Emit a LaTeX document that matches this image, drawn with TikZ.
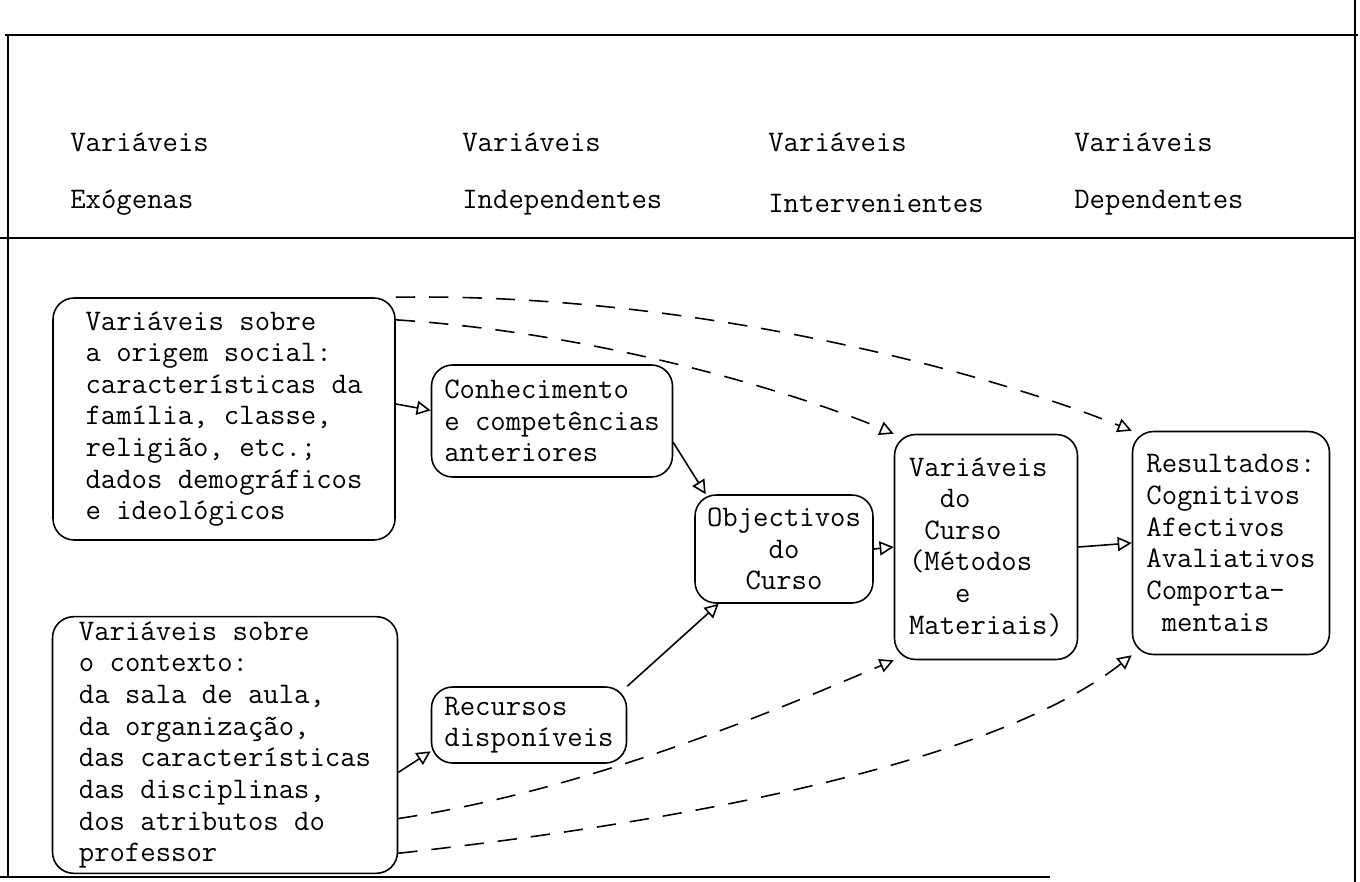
\documentclass[tikz,border=0pt]{standalone}
\usepackage{fontspec}
\usepackage{tikz}
\usetikzlibrary{arrows.meta,positioning,calc}

\begin{document}
\begin{tikzpicture}[x=0.02cm,y=-0.02cm,
    bx/.style={draw,rounded corners=12pt,line width=0.9pt,align=left,inner sep=1mm,font=\ttfamily\fontsize{17}{18}\selectfont},
    hd/.style={anchor=west,inner sep=0pt,font=\ttfamily\fontsize{17}{18}\selectfont},
    a/.style={-{Triangle[open,length=8pt,width=8pt]},line width=0.9pt},
    da/.style={a,dash pattern=on 11pt off 8pt}]
  \useasboundingbox (0,0) rectangle (1360,882);
  % frame
  \draw[line width=1pt] (5,35) -- (1358,35);
  \draw[line width=1pt] (8,35) -- (8,877);
  \draw[line width=1pt] (1355,0) -- (1355,882);
  \draw[line width=1pt] (0,877) -- (1050,877);
  \draw[line width=0.8pt] (0,238) -- (1355,238);
  % column heads
  \node[hd] (v1) at (70,142) {Variáveis};
  \node[hd] (v2) at (462,142) {Variáveis};
  \node[hd] (v3) at (768,142) {Variáveis};
  \node[hd] (v4) at (1074,142) {Variáveis};
  \node[hd] (h1) at (70,203) {Exógenas};
  \node[hd] (h2) at (462,203) {Independentes};
  \node[hd] (h3) at (768,203) {Intervenientes};
  \node[hd] (h4) at (1074,203) {Dependentes};
  % boxes
  \node[bx,minimum width=6.84cm,minimum height=4.84cm] (soc) at (224,419) {Variáveis sobre\\a origem social:\\características da\\família, classe,\\religião, etc.;\\dados demográficos\\e ideológicos};
  \node[bx,minimum width=6.9cm,minimum height=5.1cm] (ctx) at (225,745) {Variáveis sobre\\o contexto:\\da sala de aula,\\da organização,\\das características\\das disciplinas,\\dos atributos do\\professor};
  \node[bx,minimum width=4.82cm,minimum height=2.24cm] (conh) at (552,421) {Conhecimento\\e competências\\anteriores};
  \node[bx,minimum width=3.9cm,minimum height=1.52cm] (rec) at (529,725) {Recursos\\disponíveis};
  \node[bx,minimum width=3.56cm,minimum height=2.16cm,align=center] (obj) at (784,549) {Objectivos\\do\\Curso};
  \node[bx,minimum width=3.66cm,minimum height=4.5cm] (curso) at (986,547) {Variáveis\\\phantom{xx}do\\\phantom{x}Curso\\(Métodos\\\phantom{xxx}e\\Materiais)};
  \node[bx,minimum width=3.94cm,minimum height=4.46cm] (res) at (1231,543) {Resultados:\\Cognitivos\\Afectivos\\Avaliativos\\Comporta-\\\phantom{x}mentais};
  % arrows
  \draw[a] (soc.5) -- (conh.175);
  \draw[a] (conh.-10) -- (obj.145);
  \draw[a] (rec.north east) -- (obj.-140);
  \draw[a] (ctx.-9) -- (rec.-165);
  \draw[a] (obj.east) -- (curso.west);
  \draw[a] (curso.east) -- (res.west);
  \draw[da] (soc.north east) .. controls +(305,-5) and +(-135,-55) .. (res.north west);
  \draw[da] (soc.30) .. controls +(205,13) and +(-95,-40) .. (curso.north west);
  \draw[da] (ctx.-23) .. controls +(200,-30) and +(-95,40) .. (curso.south west);
  \draw[da] (ctx.-32) .. controls +(300,-33) and +(-133,105) .. (res.south west);
\end{tikzpicture}
\end{document}
